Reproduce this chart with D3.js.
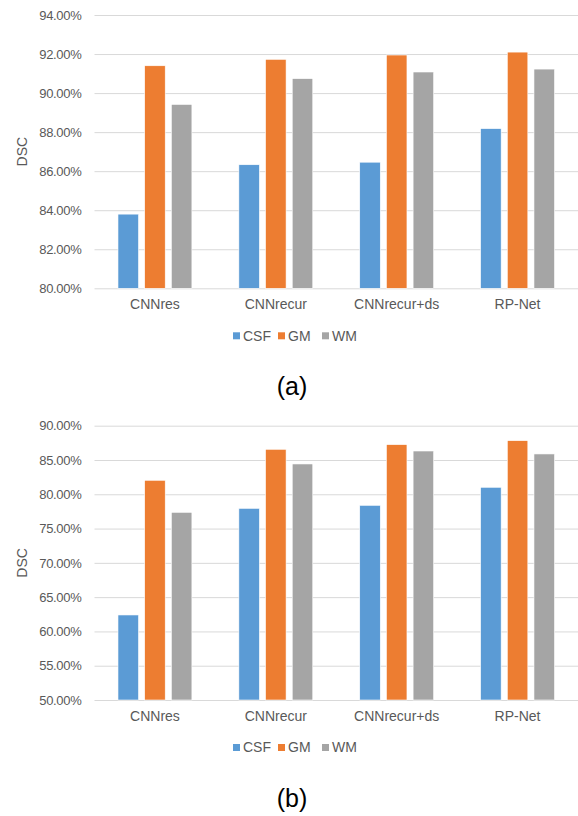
<!DOCTYPE html>
<html>
<head>
<meta charset="utf-8">
<script src="https://cdn.jsdelivr.net/npm/d3@7"></script>
<style>
  html, body { margin: 0; padding: 0; background: #ffffff; }
  svg { display: block; }
</style>
</head>
<body>
<svg id="chart" width="578" height="816"></svg>
<script>
// Methods compared and tissue classes
const categories = ["CNNres", "CNNrecur", "CNNrecur+ds", "RP-Net"];
const seriesNames = ["CSF", "GM", "WM"];
const seriesColors = ["#5B9BD5", "#ED7D31", "#A5A5A5"];

// Panel (a): DSC per method
const dscA_CSF = [0.8380, 0.8633, 0.8646, 0.8818];
const dscA_GM  = [0.9140, 0.9173, 0.9195, 0.9210];
const dscA_WM  = [0.8942, 0.9074, 0.9108, 0.9123];
const ticksA = [0.80, 0.82, 0.84, 0.86, 0.88, 0.90, 0.92, 0.94];

// Panel (b): DSC per method
const dscB_CSF = [0.6240, 0.7795, 0.7839, 0.8102];
const dscB_GM  = [0.8204, 0.8656, 0.8724, 0.8782];
const dscB_WM  = [0.7737, 0.8442, 0.8631, 0.8588];
const ticksB = [0.50, 0.55, 0.60, 0.65, 0.70, 0.75, 0.80, 0.85, 0.90];

const svg = d3.select("#chart");
const FONT = "'Liberation Sans', Arial, sans-serif";
const TEXT = "#595959";
const fmt = d3.format(".2%");

function drawPanel(opts) {
  const { values, ticks, top, bottom, caption } = opts;
  const left = 94.5, right = 578;
  const g = svg.append("g");

  const x0 = d3.scaleBand().domain(categories).range([left, right]).padding(0);
  const x1 = d3.scaleBand().domain(seriesNames).range([0, x0.bandwidth()])
    .paddingInner(0.23).paddingOuter(0.88);
  const y = d3.scaleLinear().domain([ticks[0], ticks[ticks.length - 1]]).range([bottom, top]);

  // gridlines and tick labels
  const yAxis = d3.axisLeft(y).tickValues(ticks).tickFormat(fmt)
    .tickSize(-(right - left)).tickPadding(13);
  const ag = g.append("g").attr("transform", `translate(${left},0)`).call(yAxis);
  ag.select(".domain").remove();
  ag.selectAll(".tick line").attr("stroke", "#D9D9D9").attr("stroke-width", 1);
  ag.selectAll(".tick text").attr("fill", TEXT).attr("font-family", FONT)
    .attr("font-size", 13).attr("letter-spacing", "-0.3px");

  // bars
  const rows = categories.map((c, i) => ({ cat: c, vals: seriesNames.map((s, k) => ({ s, k, v: values[k][i] })) }));
  const grp = g.append("g").selectAll("g").data(rows).join("g")
    .attr("transform", d => `translate(${x0(d.cat)},0)`);
  grp.selectAll("rect").data(d => d.vals).join("rect")
    .attr("x", d => x1(d.s))
    .attr("width", x1.bandwidth())
    .attr("y", d => y(d.v))
    .attr("height", d => y(ticks[0]) - y(d.v))
    .attr("fill", d => seriesColors[d.k])
    .attr("stroke", "#ffffff").attr("stroke-width", 0.6);

  // category labels
  const xAxis = d3.axisBottom(x0).tickSize(0).tickPadding(11);
  const xg = g.append("g").attr("transform", `translate(0,${bottom})`).call(xAxis);
  xg.select(".domain").remove();
  xg.selectAll(".tick text").attr("fill", TEXT).attr("font-family", FONT).attr("font-size", 14);

  // axis title
  g.append("text")
    .attr("transform", `translate(27,${(top + bottom) / 2}) rotate(-90)`)
    .attr("text-anchor", "middle")
    .attr("fill", TEXT).attr("font-family", FONT).attr("font-size", 14)
    .text("DSC");

  // legend
  const legendX = [233, 278, 322];
  const ly = bottom + 47.5;
  const lg = g.append("g");
  seriesNames.forEach((s, k) => {
    lg.append("rect").attr("x", legendX[k]).attr("y", ly - 3.5).attr("width", 7).attr("height", 7)
      .attr("fill", seriesColors[k]);
    lg.append("text").attr("x", legendX[k] + 10).attr("y", ly).attr("dy", "0.35em")
      .attr("fill", TEXT).attr("font-family", FONT).attr("font-size", 14).text(s);
  });

  // panel caption
  g.append("text").attr("x", 292).attr("y", bottom + 107)
    .attr("text-anchor", "middle").attr("fill", "#000000")
    .attr("font-family", FONT).attr("font-size", 25).text(caption);
}

drawPanel({ values: [dscA_CSF, dscA_GM, dscA_WM], ticks: ticksA, top: 15, bottom: 288.3, caption: "(a)" });
drawPanel({ values: [dscB_CSF, dscB_GM, dscB_WM], ticks: ticksB, top: 425.7, bottom: 700, caption: "(b)" });
</script>
</body>
</html>
